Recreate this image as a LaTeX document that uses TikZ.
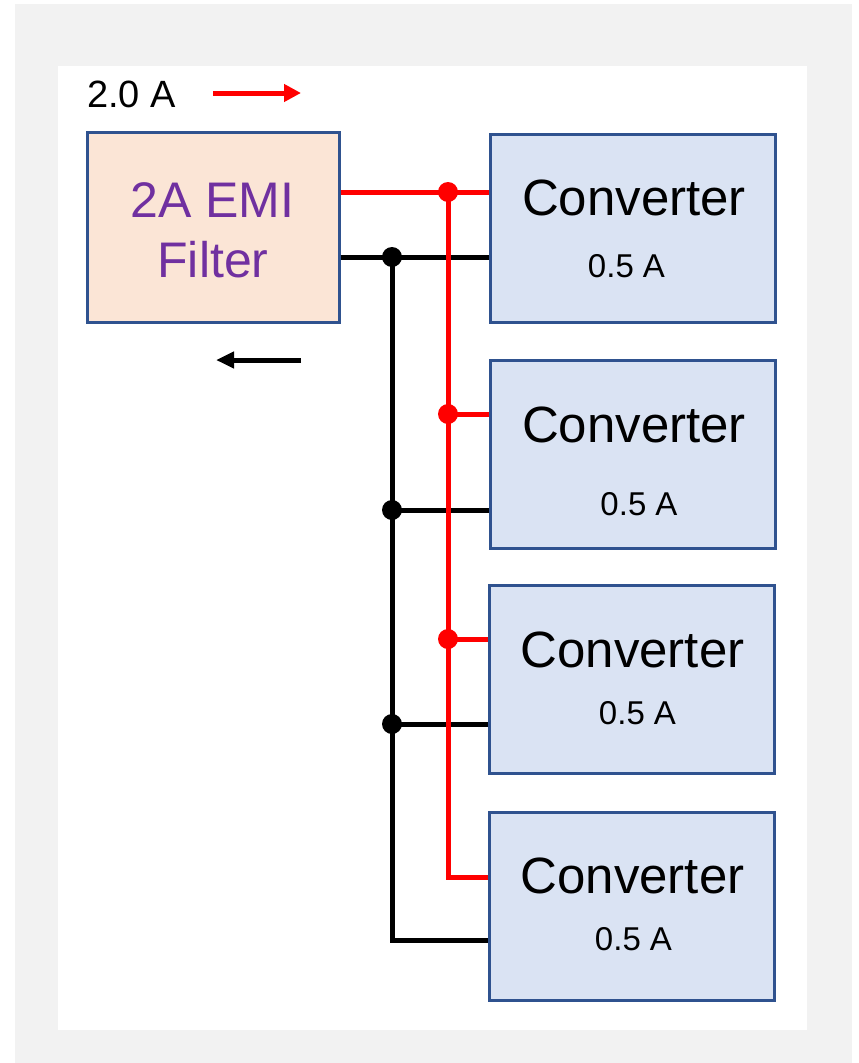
\documentclass[tikz,border=0pt]{standalone}
\usepackage{fontspec}
\setmainfont{Liberation Sans}
\usetikzlibrary{arrows.meta,calc}
\definecolor{bggray}{HTML}{F2F2F2}
\definecolor{boxblue}{HTML}{DAE3F3}
\definecolor{boxpeach}{HTML}{FBE5D6}
\definecolor{edgeblue}{HTML}{2F528F}
\definecolor{emipurple}{HTML}{7030A0}
\begin{document}
\begin{tikzpicture}[x=1pt,y=-1pt,
  blockbox/.style={draw=edgeblue,line width=3pt,rectangle,inner sep=0pt,minimum width=#1},
  conv/.style={blockbox=285pt,fill=boxblue,minimum height=188pt},
  bigtxt/.style={font=\fontsize{51}{60}\selectfont,inner sep=0pt,anchor=base},
  smalltxt/.style={font=\fontsize{33}{40}\selectfont,inner sep=0pt,anchor=base},
  redwire/.style={draw=red,line width=5pt},
  blackwire/.style={draw=black,line width=5pt},
  reddot/.style={circle,fill=red,inner sep=0pt,minimum size=20pt},
  blackdot/.style={circle,fill=black,inner sep=0pt,minimum size=20pt}]
\useasboundingbox (0,0) rectangle (859,1063);
\fill[bggray] (15,4) rectangle (852,1063);
\fill[white] (58,66) rectangle (807,1030);

% filter
\node[blockbox=252pt,fill=boxpeach,minimum height=190pt] (filter) at (213,227) {};
\node[bigtxt,font=\fontsize{50}{60}\selectfont,text=emipurple] (emi1) at (212.5,217) {2A EMI};
\node[bigtxt,font=\fontsize{50}{60}\selectfont,text=emipurple] (emi2) at (213,277) {Filter};

% converters
\node[conv] (c1) at (632.5,228) {};
\node[conv] (c2) at (632.5,454) {};
\node[conv] (c3) at (632,679.5) {};
\node[conv] (c4) at (632,906) {};
\node[bigtxt] (t1) at (634,215) {Converter};
\node[smalltxt] (a1) at (626.5,277) {0.5 A};
\node[bigtxt] (t2) at (634,442) {Converter};
\node[smalltxt] (a2) at (639,515) {0.5 A};
\node[bigtxt] (t3) at (632.5,667) {Converter};
\node[smalltxt] (a3) at (637.5,724) {0.5 A};
\node[bigtxt] (t4) at (632.5,893) {Converter};
\node[smalltxt] (a4) at (633.5,950) {0.5 A};

% junction coordinates
\coordinate (r1) at (448,192);
\coordinate (r2) at (448,414);
\coordinate (r3) at (448,639);
\coordinate (r4) at (448,877);
\coordinate (b1) at (392,257);
\coordinate (b2) at (392,510);
\coordinate (b3) at (392,724);
\coordinate (b4) at (392,940);

% wires
\draw[blackwire] (filter.east |- b1) -- (c1.west |- b1);
\draw[blackwire] (b1) -- (b4) -- (c4.west |- b4);
\draw[blackwire] (b2) -- (c2.west |- b2);
\draw[blackwire] (b3) -- (c3.west |- b3);
\draw[redwire] (filter.east |- r1) -- (c1.west |- r1);
\draw[redwire] (r1) -- (r4) -- (c4.west |- r4);
\draw[redwire] (r2) -- (c2.west |- r2);
\draw[redwire] (r3) -- (c3.west |- r3);

\node[reddot] (dr1) at (r1) {};
\node[reddot] (dr2) at (r2) {};
\node[reddot] (dr3) at (r3) {};
\node[blackdot] (db1) at (b1) {};
\node[blackdot] (db2) at (b2) {};
\node[blackdot] (db3) at (b3) {};

% current arrows
\node[font=\fontsize{38}{44}\selectfont,inner sep=0pt,anchor=base west] (cur) at (87,107) {2.0 A};
\coordinate (ra0) at (213,93);
\coordinate (ra1) at (301,93);
\draw[red,line width=5pt,-{Triangle[length=17pt,width=17pt]}] (ra0) -- (ra1);
\coordinate (ba0) at (301,360);
\coordinate (ba1) at (216,360);
\draw[black,line width=5pt,-{Triangle[length=18pt,width=16pt]}] (ba0) -- (ba1);
\end{tikzpicture}
\end{document}
